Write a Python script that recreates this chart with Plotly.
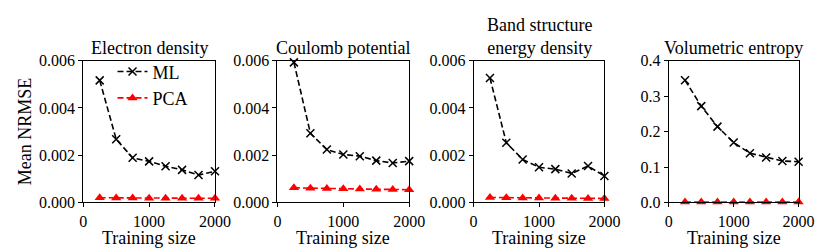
import plotly.graph_objects as go

train_sizes = [250, 500, 750, 1000, 1250, 1500, 1750, 2000]

titles = ["Electron density", "Coulomb potential", "Band structure<br>energy density", "Volumetric entropy"]

ml_electron = [0.00517, 0.00268, 0.00189, 0.00174, 0.00153, 0.00138, 0.00116, 0.00132]
pca_electron = [0.00020, 0.00019, 0.00019, 0.00018, 0.00018, 0.00018, 0.00018, 0.00018]

ml_coulomb = [0.00593, 0.00293, 0.00224, 0.00203, 0.00196, 0.00177, 0.00167, 0.00175]
pca_coulomb = [0.00062, 0.00060, 0.00059, 0.00058, 0.00057, 0.00056, 0.00055, 0.00054]

ml_band = [0.00527, 0.00253, 0.00182, 0.00149, 0.00141, 0.00123, 0.00154, 0.00112]
pca_band = [0.00021, 0.00020, 0.00019, 0.00019, 0.00018, 0.00018, 0.00017, 0.00017]

ml_entropy = [0.345, 0.272, 0.214, 0.169, 0.139, 0.127, 0.117, 0.115]
pca_entropy = [0.001, 0.001, 0.001, 0.001, 0.001, 0.001, 0.001, 0.001]

ml_series = [ml_electron, ml_coulomb, ml_band, ml_entropy]
pca_series = [pca_electron, pca_coulomb, pca_band, pca_entropy]

y_ranges = [[0, 0.006], [0, 0.006], [0, 0.006], [0, 0.4]]
y_ticks = [[0, 0.002, 0.004, 0.006]] * 3 + [[0, 0.1, 0.2, 0.3, 0.4]]
y_formats = [".3f", ".3f", ".3f", ".1f"]
x_ticks = [0, 1000, 2000]

W, H = 831, 251
FONT = "Liberation Serif"
FS = 18
TFS = 16
lefts = [73, 272, 473, 673]
rights = [208, 407, 607, 806]
top_px, bot_px = 48, 200
DASH = "6px,3px"

fig = go.Figure()
for i in range(4):
    xa = "x" if i == 0 else f"x{i+1}"
    ya = "y" if i == 0 else f"y{i+1}"
    fig.add_trace(go.Scatter(
        x=train_sizes, y=ml_series[i], xaxis=xa, yaxis=ya, name="ML",
        mode="lines+markers", showlegend=(i == 0), cliponaxis=False,
        line=dict(color="black", dash=DASH, width=1.6),
        marker=dict(symbol="x-thin", size=8, line=dict(color="black", width=1.5), color="black"),
    ))
    fig.add_trace(go.Scatter(
        x=train_sizes, y=pca_series[i], xaxis=xa, yaxis=ya, name="PCA",
        mode="lines+markers", showlegend=(i == 0), cliponaxis=False,
        line=dict(color="red", dash=DASH, width=1.6),
        marker=dict(symbol="triangle-up", size=9, color="red"),
    ))

layout = dict(
    width=W, height=H, margin=dict(l=0, r=0, t=0, b=0),
    plot_bgcolor="white", paper_bgcolor="white",
    font=dict(family=FONT, size=FS, color="black"),
    legend=dict(x=(lefts[0] + 30) / W, y=1 - 40 / H, xanchor="left", yanchor="top",
                bgcolor="rgba(0,0,0,0)", font=dict(family=FONT, size=FS), tracegroupgap=0, itemwidth=30),
)
annotations = []
for i in range(4):
    xk = "xaxis" if i == 0 else f"xaxis{i+1}"
    yk = "yaxis" if i == 0 else f"yaxis{i+1}"
    ya = "y" if i == 0 else f"y{i+1}"
    xa = "x" if i == 0 else f"x{i+1}"
    layout[xk] = dict(
        domain=[lefts[i] / W, rights[i] / W], range=[0, 2000], anchor=ya,
        tickvals=x_ticks, ticks="outside", ticklen=4, tickcolor="black", tickwidth=1,
        showline=True, linecolor="black", linewidth=1, mirror=True,
        showgrid=False, zeroline=False, tickfont=dict(family=FONT, size=TFS, color="black"),
    )
    layout[yk] = dict(
        domain=[1 - bot_px / H, 1 - top_px / H], range=y_ranges[i], anchor=xa,
        tickvals=y_ticks[i], tickformat=y_formats[i], ticks="outside", ticklen=4, tickwidth=1,
        tickcolor="black", showline=True, linecolor="black", linewidth=1, mirror=True,
        showgrid=False, zeroline=False, tickfont=dict(family=FONT, size=TFS, color="black"),
    )
    cx = (lefts[i] + rights[i]) / 2 / W
    annotations.append(dict(text="Training size", x=cx, y=1 - 238 / H, xref="paper", yref="paper",
                            showarrow=False, font=dict(family=FONT, size=FS), xanchor="center", yanchor="middle"))
    annotations.append(dict(text=titles[i], x=cx, y=1 - (top_px - 1) / H, xref="paper", yref="paper",
                            showarrow=False, font=dict(family=FONT, size=FS), xanchor="center", yanchor="bottom"))
annotations.append(dict(text="Mean NRMSE", x=13 / W, y=1 - 124 / H, xref="paper", yref="paper",
                        showarrow=False, textangle=-90, font=dict(family=FONT, size=FS),
                        xanchor="center", yanchor="middle"))
layout["annotations"] = annotations
fig.update_layout(**layout)
fig.write_html("out.html")
